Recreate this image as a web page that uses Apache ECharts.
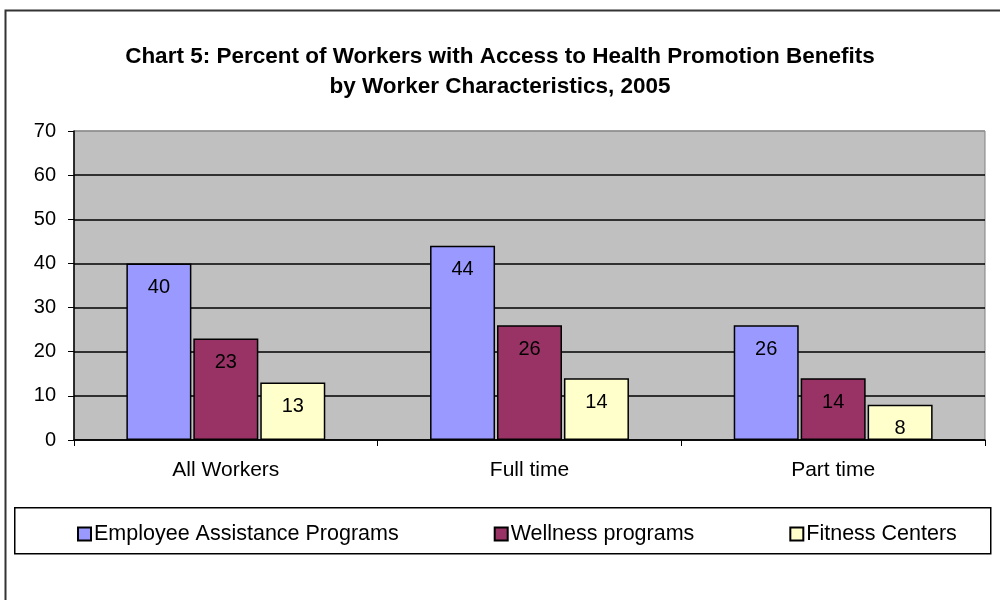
<!DOCTYPE html>
<html>
<head>
<meta charset="utf-8">
<script src="https://cdn.jsdelivr.net/npm/echarts@6/dist/echarts.min.js"></script>
<style>
html,body{margin:0;padding:0;background:#fff;}
#chart{width:1000px;height:600px;}
</style>
</head>
<body>
<div id="chart"></div>
<script>
var categories = ['All Workers', 'Full time', 'Part time'];
var employeeAssistance = [40, 44, 26];
var wellness = [23, 26, 14];
var fitness = [13, 14, 8];
var seriesNames = ['Employee Assistance Programs', 'Wellness programs', 'Fitness Centers'];
var yTicks = [0, 10, 20, 30, 40, 50, 60, 70];

var chart = echarts.init(document.getElementById('chart'), null, {renderer: 'canvas'});
var FONT = '"Liberation Sans", Arial, sans-serif';

function barSeries(name, data, color) {
  return {
    name: name,
    type: 'bar',
    data: data,
    barWidth: 65,
    barGap: '3%',
    itemStyle: {color: color, borderColor: '#000', borderWidth: 1.5},
    label: {
      show: true,
      position: 'insideTop',
      distance: 14,
      color: '#000',
      fontSize: 20,
      fontFamily: FONT
    },
    emphasis: {disabled: true},
    animation: false
  };
}

chart.setOption({
  backgroundColor: '#fff',
  animation: false,
  title: {
    text: 'Chart 5: Percent of Workers with Access to Health Promotion Benefits\nby Worker Characteristics, 2005',
    left: 'center',
    top: 37,
    textStyle: {fontFamily: FONT, fontWeight: 'bold', fontSize: 22.5, lineHeight: 30, color: '#000'}
  },
  graphic: [
    {type: 'rect', left: 3, top: 8, shape: {width: 1020, height: 620}, style: {fill: 'none', stroke: '#333', lineWidth: 2}, silent: true},
    {type: 'rect', left: 14, top: 507, shape: {width: 976, height: 46}, style: {fill: '#fff', stroke: '#000', lineWidth: 1.5}, silent: true, z: -1}
  ],
  legend: {
    data: seriesNames,
    left: 72,
    top: 518,
    itemGap: 95,
    itemWidth: 13,
    itemHeight: 13,
    icon: 'rect',
    textStyle: {fontFamily: FONT, fontSize: 21.5, color: '#000', padding: [0, 0, 0, -2]},
    selectedMode: false
  },
  grid: {
    left: 74, right: 15, top: 131, bottom: 160,
    show: true,
    backgroundColor: '#C0C0C0',
    borderColor: '#808080',
    borderWidth: 1
  },
  xAxis: {
    type: 'category',
    data: categories,
    axisLine: {lineStyle: {color: '#000', width: 1.5}},
    axisTick: {show: true, alignWithLabel: false, length: 6, lineStyle: {color: '#000'}},
    axisLabel: {fontFamily: FONT, fontSize: 21, color: '#000', margin: 20},
    splitLine: {show: false}
  },
  yAxis: {
    type: 'value',
    min: yTicks[0],
    max: yTicks[yTicks.length - 1],
    interval: 10,
    axisLine: {show: true, lineStyle: {color: '#000', width: 1.5}},
    axisTick: {show: true, length: 6, lineStyle: {color: '#000'}},
    axisLabel: {fontFamily: FONT, fontSize: 20, color: '#000', margin: 18},
    splitLine: {show: true, lineStyle: {color: ['#000', '#000', '#000', '#000', '#000', '#000', '#000', '#909090'], width: 1.5}}
  },
  series: [
    barSeries(seriesNames[0], employeeAssistance, '#9999FF'),
    barSeries(seriesNames[1], wellness, '#993366'),
    barSeries(seriesNames[2], fitness, '#FFFFCC')
  ]
});
</script>
</body>
</html>
